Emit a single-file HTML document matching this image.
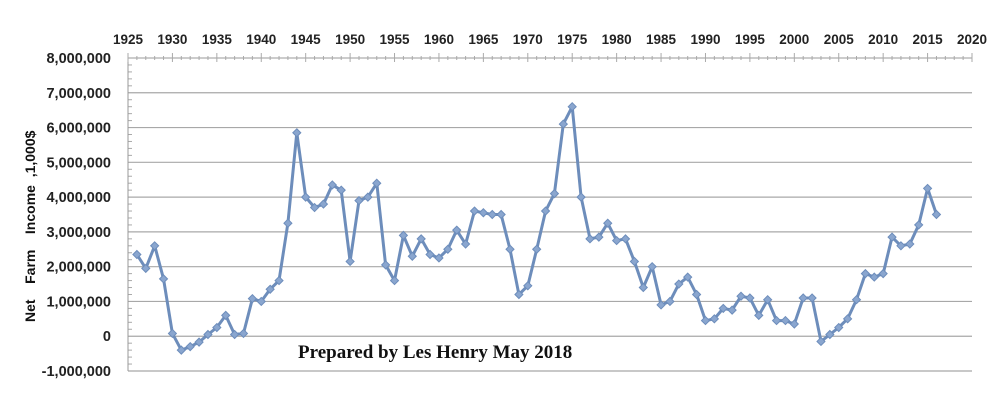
<!DOCTYPE html>
<html><head><meta charset="utf-8"><style>
html,body{margin:0;padding:0;background:#fff;width:1000px;height:408px;overflow:hidden}
</style></head><body>
<svg id="s" width="1000" height="408" xmlns="http://www.w3.org/2000/svg" font-family="Liberation Sans, sans-serif">
<g id="grid"></g>
<g id="ax"></g>
<text x="298" y="358" font-family="Liberation Serif, serif" font-weight="bold" font-size="19" fill="#111">Prepared by Les Henry May 2018</text>
<text transform="translate(35,322) rotate(-90)" font-weight="bold" font-size="14" fill="#111" xml:space="preserve">Net    Farm    Income  ,1,000$</text>
<g id="ser"></g>
</svg>
<script>
var ns="http://www.w3.org/2000/svg";
function el(p,t,a,txt){var e=document.createElementNS(ns,t);for(var k in a)e.setAttribute(k,a[k]);if(txt!=null)e.textContent=txt;document.getElementById(p).appendChild(e);return e;}
var x0=128,x1=972,yr0=1925,yr1=2020;
function X(y){return x0+(y-yr0)*(x1-x0)/(yr1-yr0);}
function Y(v){return 58+(8-v)*313/9;}
var labels=["8,000,000","7,000,000","6,000,000","5,000,000","4,000,000","3,000,000","2,000,000","1,000,000","0","-1,000,000"];
for(var i=0;i<10;i++){var v=8-i,y=Y(v);
 if(i>0)el("grid","line",{x1:x0,x2:x1,y1:y,y2:y,stroke:"#a8a8a8","stroke-width":1.2});
 el("ax","text",{x:111,y:y+5,"text-anchor":"end","font-weight":"bold","font-size":"14.5",fill:"#222"},labels[i]);
 for(var j=1;j<5&&i<9;j++){var yy=y+j*313/45;el("ax","line",{x1:x0,x2:x0+4,y1:yy,y2:yy,stroke:"#aaa"});}
}
el("ax","line",{x1:x0,x2:x0,y1:58,y2:371,stroke:"#999"});
el("ax","line",{x1:x0,x2:x1,y1:58,y2:58,stroke:"#999"});
for(var y=yr0;y<=yr1;y++){var x=X(y),big=(y%5==0);
 el("ax","line",{x1:x,x2:x,y1:big?53:56,y2:big?62:60,stroke:"#aaa"});
 if(big)el("ax","text",{x:x,y:44,"text-anchor":"middle","font-weight":"bold","font-size":"13.5",fill:"#222"},String(y));
}
var d=[2.35,1.95,2.6,1.65,0.08,-0.4,-0.3,-0.17,0.05,0.25,0.6,0.05,0.08,1.08,1.0,1.35,1.6,3.25,5.85,4.0,3.7,3.8,4.35,4.2,2.15,3.9,4.0,4.4,2.05,1.6,2.9,2.3,2.8,2.35,2.25,2.5,3.05,2.65,3.6,3.55,3.5,3.5,2.5,1.2,1.45,2.5,3.6,4.1,6.1,6.6,4.0,2.8,2.85,3.25,2.75,2.8,2.15,1.4,2.0,0.9,1.0,1.5,1.7,1.2,0.45,0.5,0.8,0.75,1.15,1.1,0.6,1.05,0.45,0.45,0.35,1.1,1.1,-0.15,0.05,0.25,0.5,1.05,1.8,1.7,1.8,2.85,2.6,2.65,3.2,4.25,3.5];
var pts=d.map(function(v,i){return X(1926+i).toFixed(1)+","+Y(v).toFixed(1);});
el("ser","polyline",{points:pts.join(" "),fill:"none",stroke:"#6d8dbb","stroke-width":3,"stroke-linejoin":"round"});
d.forEach(function(v,i){var x=X(1926+i),y=Y(v);
 el("ser","polygon",{points:(x)+","+(y-4)+" "+(x+4)+","+y+" "+x+","+(y+4)+" "+(x-4)+","+y,fill:"#8aa6cf",stroke:"#6d8dbb","stroke-width":1});});
</script>
</body></html>
